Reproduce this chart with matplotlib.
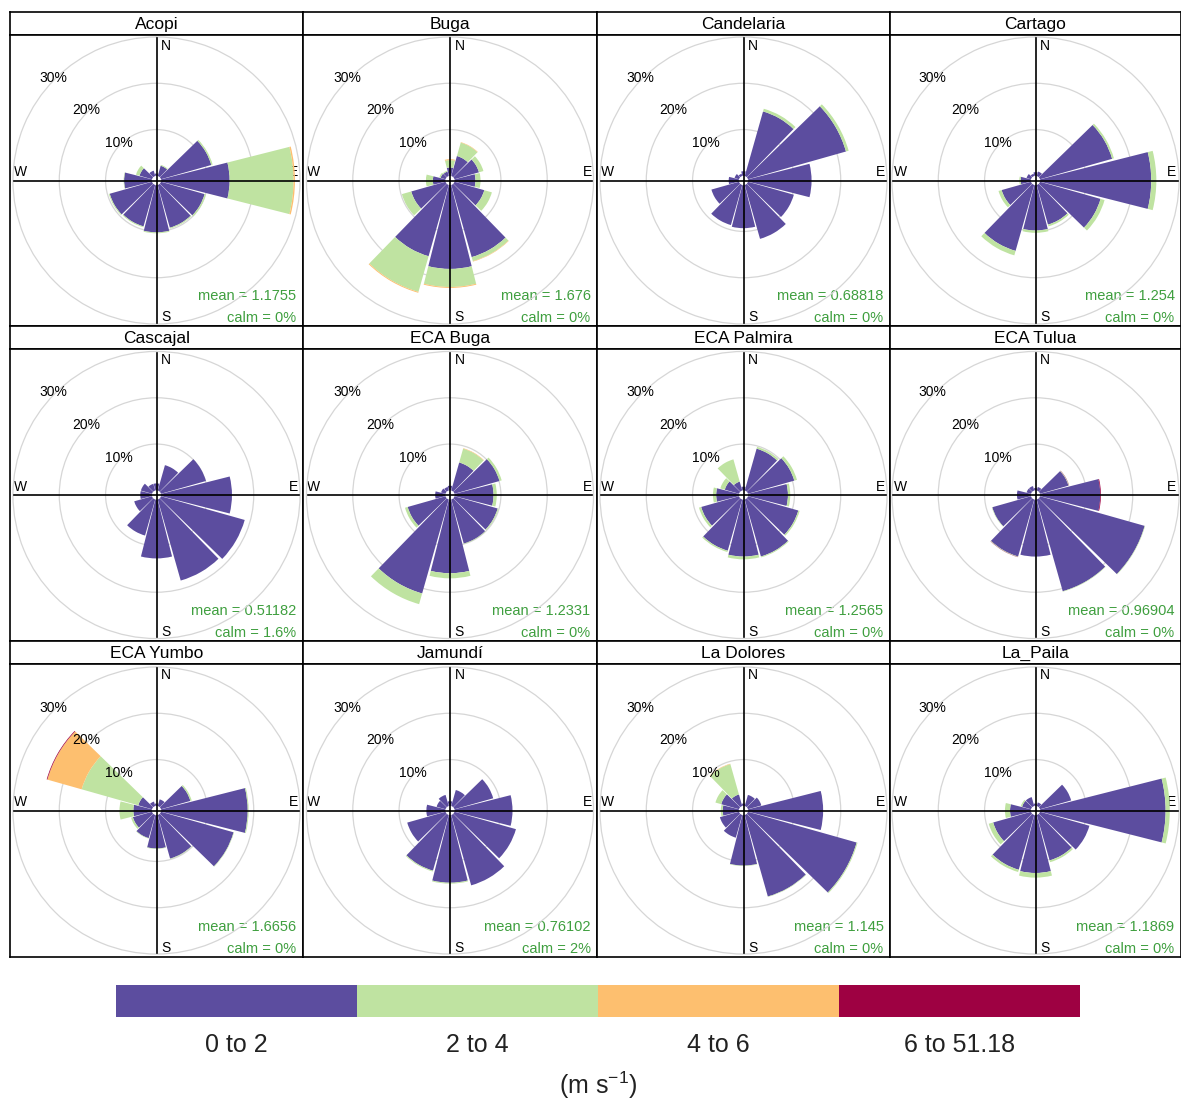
import numpy as np
import matplotlib.pyplot as plt

plt.rcParams['font.family'] = ['Liberation Sans', 'DejaVu Sans']

stations = ['Acopi', 'Buga', 'Candelaria', 'Cartago',
            'Cascajal', 'ECA Buga', 'ECA Palmira', 'ECA Tulua',
            'ECA Yumbo', 'Jamundí', 'La Dolores', 'La_Paila']
mean_ws = ['1.1755', '1.676', '0.68818', '1.254',
           '0.51182', '1.2331', '1.2565', '0.96904',
           '1.6656', '0.76102', '1.145', '1.1869']
calm_pct = ['0%', '0%', '0%', '0%', '1.6%', '0%', '0%', '0%', '0%', '2%', '0%', '0%']

directions = np.arange(0, 360, 30)
speed_bins = ['0 to 2', '2 to 4', '4 to 6', '6 to 51.18']
bin_colors = ['#5c4d9f', '#bfe3a1', '#fdbf6f', '#9e0142']
pct_rings = [10, 20, 30]

# frequency (%) per direction 0,30,...,330 for each speed class
ws_0_2 = [
    [0.5, 2.3, 11.3, 14.8, 9.8, 9.6, 10.2, 9.3, 9.5, 6.0, 2.8, 1.2],
    [1.8, 4.5, 5.5, 4.5, 6.7, 16.2, 18.1, 16.0, 7.7, 2.7, 1.1, 1.0],
    [1.0, 14.5, 22.0, 13.7, 10.3, 12.1, 9.3, 9.0, 6.2, 2.2, 1.0, 0.5],
    [0.8, 1.0, 16.2, 24.0, 13.6, 8.9, 9.8, 14.8, 6.6, 2.2, 1.0, 0.5],
    [1.5, 5.7, 10.1, 15.3, 18.8, 18.2, 12.7, 8.1, 4.0, 2.5, 2.5, 1.5],
    [1.0, 6.3, 10.1, 8.4, 9.7, 9.9, 15.9, 21.1, 8.5, 2.2, 1.0, 0.8],
    [0.8, 9.4, 10.4, 8.6, 11.3, 12.8, 12.3, 11.5, 8.5, 4.9, 3.2, 2.0],
    [0.5, 0.8, 6.4, 13.0, 23.5, 20.6, 12.3, 12.8, 8.7, 3.0, 1.0, 1.0],
    [0.5, 1.5, 6.6, 18.7, 16.3, 9.8, 7.2, 5.2, 4.3, 4.0, 3.1, 1.0],
    [1.0, 3.6, 8.7, 12.5, 13.8, 15.8, 14.6, 12.5, 8.6, 4.1, 2.0, 2.5],
    [0.5, 2.5, 3.0, 16.2, 24.4, 18.3, 10.9, 5.1, 4.3, 3.5, 4.0, 2.6],
    [0.5, 0.8, 7.0, 27.1, 11.1, 10.2, 12.5, 12.3, 8.5, 4.5, 2.0, 2.0],
]
ws_2_4 = [
    [0.0, 0.2, 0.3, 13.8, 0.3, 0.2, 0.2, 0.2, 0.2, 0.1, 0.8, 0.0],
    [1.6, 3.0, 1.0, 1.1, 1.7, 0.9, 3.9, 8.0, 2.1, 1.5, 0.3, 0.2],
    [0.0, 0.6, 0.6, 0.0, 0.0, 0.0, 0.0, 0.0, 0.0, 0.0, 0.0, 0.0],
    [0.0, 0.0, 0.4, 1.1, 0.9, 0.4, 0.5, 1.0, 0.7, 0.3, 0.0, 0.0],
    [0.0, 0.0, 0.0, 0.0, 0.0, 0.0, 0.0, 0.0, 0.0, 0.0, 0.0, 0.0],
    [0.0, 3.1, 0.5, 0.7, 0.2, 0.1, 1.1, 2.4, 0.6, 0.0, 0.0, 0.0],
    [0.0, 0.4, 0.6, 0.5, 0.3, 0.2, 0.6, 0.3, 0.5, 0.7, 1.0, 5.0],
    [0.0, 0.0, 0.1, 0.0, 0.1, 0.1, 0.0, 0.1, 0.1, 0.0, 0.0, 0.0],
    [0.0, 0.0, 0.3, 0.2, 0.1, 0.1, 0.1, 0.1, 0.4, 3.0, 12.7, 0.0],
    [0.0, 0.0, 0.0, 0.0, 0.0, 0.0, 0.2, 0.2, 0.0, 0.0, 0.0, 0.0],
    [0.0, 0.0, 0.0, 0.0, 0.2, 0.1, 0.1, 0.0, 0.0, 0.4, 1.3, 6.8],
    [0.0, 0.0, 0.0, 0.9, 0.0, 0.4, 1.0, 0.5, 1.0, 1.1, 0.3, 0.0],
]
ws_4_6 = [
    [0, 0, 0, 0.3, 0, 0, 0, 0, 0, 0, 0, 0],
    [0.2, 0.1, 0, 0, 0, 0.1, 0.2, 0.2, 0, 0, 0, 0],
    [0, 0, 0, 0, 0, 0, 0, 0, 0, 0, 0, 0],
    [0, 0, 0, 0, 0, 0, 0, 0, 0, 0, 0, 0],
    [0, 0, 0, 0, 0, 0, 0, 0, 0, 0, 0, 0],
    [0, 0.1, 0, 0, 0, 0, 0, 0, 0, 0, 0, 0],
    [0, 0, 0, 0, 0, 0, 0, 0, 0, 0, 0, 0],
    [0, 0, 0, 0, 0, 0, 0, 0, 0, 0, 0, 0],
    [0, 0, 0, 0, 0, 0, 0, 0, 0, 0, 7.7, 0],
    [0, 0, 0, 0, 0, 0, 0, 0, 0, 0, 0, 0],
    [0, 0, 0, 0, 0, 0, 0, 0, 0, 0, 0, 0.1],
    [0, 0, 0, 0, 0, 0, 0, 0, 0, 0, 0, 0],
]
ws_6_up = [
    [0, 0, 0, 0, 0, 0, 0, 0, 0, 0, 0, 0],
    [0, 0, 0, 0, 0, 0, 0, 0, 0, 0, 0, 0],
    [0, 0, 0, 0, 0, 0, 0, 0, 0, 0, 0, 0],
    [0, 0, 0, 0, 0, 0, 0, 0, 0, 0, 0, 0],
    [0, 0, 0, 0, 0, 0, 0, 0, 0, 0, 0, 0],
    [0, 0, 0, 0, 0, 0, 0, 0, 0, 0, 0, 0],
    [0, 0, 0, 0, 0, 0, 0, 0, 0, 0, 0, 0],
    [0, 0, 0.05, 0.15, 0, 0, 0, 0.05, 0, 0, 0, 0],
    [0, 0, 0, 0, 0, 0, 0, 0, 0, 0, 0.15, 0],
    [0, 0, 0, 0, 0, 0, 0, 0, 0, 0, 0, 0],
    [0, 0, 0, 0, 0, 0, 0, 0, 0, 0, 0, 0],
    [0, 0, 0, 0, 0, 0, 0, 0, 0, 0, 0, 0],
]
speed_classes = [ws_0_2, ws_2_4, ws_4_6, ws_6_up]

W, H = 1181, 1104
fig = plt.figure(figsize=(W / 100, H / 100), dpi=100)

col_x = [10, 303, 597, 890, 1181]
row_top = [12, 326, 641]
row_bot = [326, 641, 957]
strip_h = 23
px_per_pct = 4.63
frame_lw = 1.2
txt_green = '#3f9f3f'


def rect(x0, y0, x1, y1):
    return [x0 / W, 1 - y1 / H, (x1 - x0) / W, (y1 - y0) / H]


def clean(ax):
    ax.set_xticks([])
    ax.set_yticks([])
    for s in ax.spines.values():
        s.set_linewidth(frame_lw)


theta = np.radians(directions)
for i, name in enumerate(stations):
    r, c = divmod(i, 4)
    x0, x1 = col_x[c], col_x[c + 1]
    y0, y1 = row_top[r], row_bot[r]

    # strip with station name
    sax = fig.add_axes(rect(x0, y0, x1, y0 + strip_h))
    clean(sax)
    sax.text(0.5, 0.45, name, ha='center', va='center', fontsize=12.5,
             transform=sax.transAxes)

    # panel frame and annotations
    fax = fig.add_axes(rect(x0, y0 + strip_h, x1, y1))
    clean(fax)
    fax.text(0.515, 0.985, 'N', ha='left', va='top', fontsize=10, transform=fax.transAxes)
    fax.text(0.515, 0.008, 'S', ha='left', va='bottom', fontsize=10, transform=fax.transAxes)
    fax.text(0.982, 0.505, 'E', ha='right', va='bottom', fontsize=10, transform=fax.transAxes)
    fax.text(0.015, 0.505, 'W', ha='left', va='bottom', fontsize=10, transform=fax.transAxes)
    fax.text(0.978, 0.103, 'mean = ' + mean_ws[i], ha='right', va='center',
             fontsize=10.5, color=txt_green, transform=fax.transAxes)
    fax.text(0.978, 0.026, 'calm = ' + calm_pct[i], ha='right', va='center',
             fontsize=10.5, color=txt_green, transform=fax.transAxes)

    # wind rose
    pax = fig.add_axes(rect(x0, y0 + strip_h, x1, y1), projection='polar')
    pax.patch.set_alpha(0)
    pax.spines['polar'].set_visible(False)
    pax.set_theta_zero_location('N')
    pax.set_theta_direction(-1)
    radius_px = min(x1 - x0, y1 - y0 - strip_h) / 2
    pax.set_ylim(-1, radius_px / px_per_pct - 1)
    pax.set_xticks([])
    pax.set_yticks(pct_rings)
    pax.set_yticklabels([])
    pax.yaxis.grid(True, color='#d6d6d6', linewidth=0.9)

    bottom = np.zeros(len(directions))
    for k, cls in enumerate(speed_classes):
        vals = np.array(cls[i])
        pax.bar(theta, vals, width=np.radians(28.4), bottom=bottom,
                color=bin_colors[k], linewidth=0, align='center', zorder=3)
        bottom += vals

    for a in [0, 90, 180, 270]:
        pax.plot([np.radians(a), np.radians(a)], [-1, 29.7], color='black',
                 linewidth=1.2, zorder=4)

    for p in pct_rings:
        pax.text(np.radians(315), p + 0.4, f'{p}%', ha='center', va='center',
                 fontsize=10, zorder=5)

# colour key
lax = fig.add_axes(rect(116, 985, 1080, 1017))
lax.barh(0, np.ones(len(speed_bins)), left=np.arange(len(speed_bins)),
         height=1, color=bin_colors, align='center')
lax.set_xlim(0, len(speed_bins))
lax.set_ylim(-0.5, 0.5)
lax.axis('off')
for k, lab in enumerate(speed_bins):
    lax.text(k + 0.5, -1.37, lab, ha='center', va='center', fontsize=18, color='#222222')
lax.text(2.0, -2.62, '(m s$^{\\mathregular{-1}}$)', ha='center', va='center',
         fontsize=18, color='#222222')

plt.savefig('out.png', dpi=100)
